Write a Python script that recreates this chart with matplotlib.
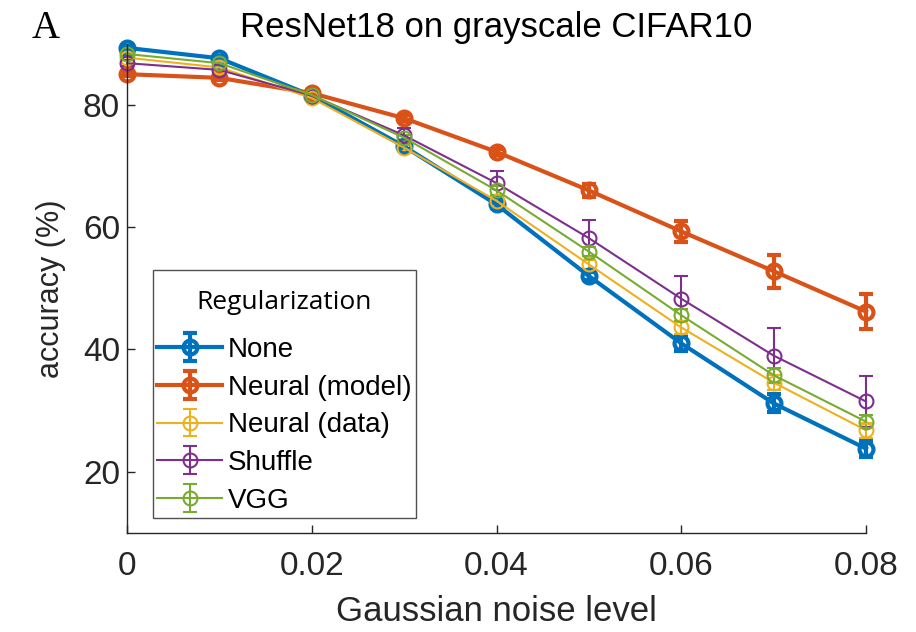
import matplotlib
matplotlib.use("Agg")
import matplotlib.pyplot as plt
from matplotlib.offsetbox import VPacker, DrawingArea

# noise levels and mean accuracy (%) per regularization type
noise = [0.0, 0.01, 0.02, 0.03, 0.04, 0.05, 0.06, 0.07, 0.08]

acc_none = [89.3, 87.6, 81.5, 73.2, 63.7, 52.0, 41.0, 31.2, 23.8]
acc_model = [85.0, 84.4, 81.9, 77.8, 72.3, 66.0, 59.3, 52.8, 46.2]
acc_data = [87.7, 86.1, 81.1, 73.0, 64.3, 53.9, 43.6, 34.6, 26.8]
acc_shuffle = [86.8, 85.7, 81.5, 75.0, 67.2, 58.2, 48.3, 39.0, 31.5]
acc_vgg = [88.3, 86.8, 81.6, 74.6, 66.0, 56.0, 45.6, 35.8, 28.2]

# standard errors
err_none = [0.3, 0.3, 0.4, 0.5, 0.6, 0.7, 1.3, 1.5, 1.3]
err_model = [0.3, 0.3, 0.3, 0.5, 0.5, 1.0, 1.7, 2.7, 2.9]
err_data = [0.3, 0.4, 0.4, 0.5, 0.7, 0.8, 1.0, 1.2, 1.2]
err_shuffle = [0.5, 0.5, 0.5, 1.2, 2.0, 2.9, 3.7, 4.5, 4.2]
err_vgg = [0.3, 0.3, 0.4, 0.5, 0.7, 0.8, 1.0, 1.2, 1.1]

labels = ["None", "Neural (model)", "Neural (data)", "Shuffle", "VGG"]
xticks = [0, 0.02, 0.04, 0.06, 0.08]
xticklabels = ["0", "0.02", "0.04", "0.06", "0.08"]
yticks = [20, 40, 60, 80]

colors = ["#0072BD", "#D95319", "#EDB120", "#7E2F8E", "#77AC30"]
widths = [3.0, 3.0, 1.5, 1.5, 1.5]

plt.rcParams["font.family"] = ["Liberation Sans", "DejaVu Sans"]

fig = plt.figure(figsize=(9.16, 6.32), dpi=100)
ax = fig.add_axes([127 / 916, 1 - 533 / 632, 739 / 916, (533 - 43.6) / 632])

means = [acc_none, acc_model, acc_data, acc_shuffle, acc_vgg]
errs = [err_none, err_model, err_data, err_shuffle, err_vgg]
for m, e, c, w, lab in zip(means, errs, colors, widths, labels):
    bars = ax.errorbar(noise, m, yerr=e, color=c, lw=w, elinewidth=w, capsize=5,
                       capthick=w, marker="o", ms=10, mfc="none", mec=c, mew=w,
                       label=lab)
    for artist in bars.lines[0:1] + bars.lines[1] + bars.lines[2]:
        artist.set_clip_on(False)

ax.set_xlim(0, 0.08)
ax.set_ylim(10, 90)
ax.set_xticks(xticks)
ax.set_xticklabels(xticklabels)
ax.set_yticks(yticks)
ax.tick_params(direction="in", labelsize=24, length=6, width=1,
               colors="#262626")
ax.tick_params(axis="x", pad=13)
ax.tick_params(axis="y", pad=5)
for s in ["top", "right"]:
    ax.spines[s].set_visible(False)
for s in ["left", "bottom"]:
    ax.spines[s].set_color("#262626")
    ax.spines[s].set_linewidth(1)

ax.set_xlabel("Gaussian noise level", fontsize=25, color="#262626", labelpad=9)
ax.set_ylabel("accuracy (%)", fontsize=22, color="#262626", labelpad=12)
ax.set_title("ResNet18 on grayscale CIFAR10", fontsize=25, pad=5)

leg = ax.legend(loc="lower left", bbox_to_anchor=(0.035, 0.031), fontsize=20,
                title="Regularization", frameon=True, fancybox=False,
                handlelength=2.35, handletextpad=0.2, borderpad=0.15,
                labelspacing=0.42, borderaxespad=0)
leg.get_title().set_fontsize(19)
leg.get_title().set_family(["Open Sans", "DejaVu Sans"])
leg._legend_box.sep = 16
# extra room above the legend title
box = leg._legend_box
box._children[0] = VPacker(children=[DrawingArea(1, 11), box._children[0]],
                           pad=0, sep=0, align="center")
box._children[0].set_figure(fig)
leg.get_frame().set_edgecolor("#262626")
leg.get_frame().set_linewidth(1)

fig.text(0.05, 0.955, "A", fontsize=28, family=["Liberation Serif", "DejaVu Serif"],
         va="center", ha="center")

fig.savefig("out.png", dpi=100)
